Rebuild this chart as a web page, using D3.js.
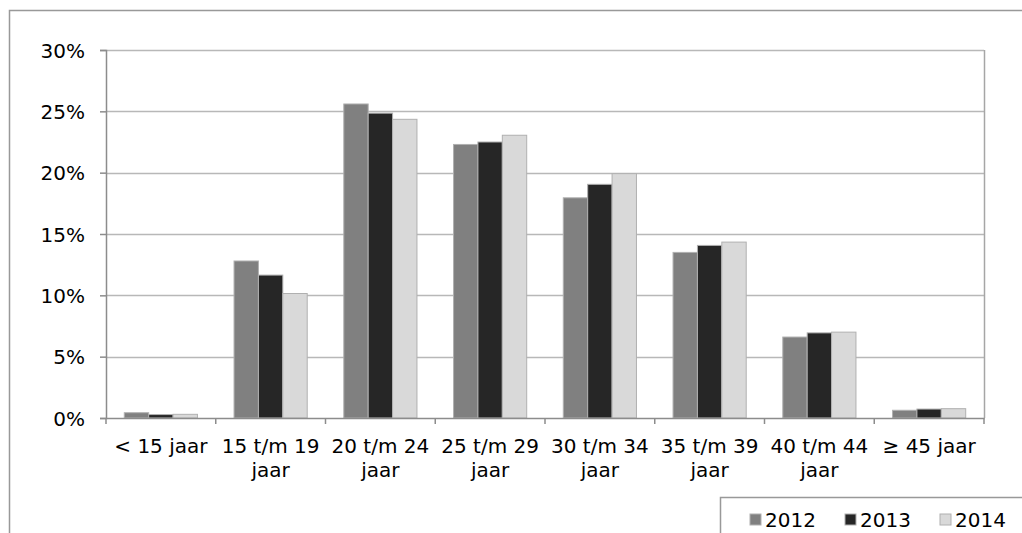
<!DOCTYPE html>
<html>
<head>
    <meta charset="utf-8">
    <title>Leeftijdsverdeling 2012 - 2014</title>
    <style>
    body { margin: 0; background: #fff; }
    text { font-family: 'DejaVu Sans', Verdana, sans-serif; fill: #000; }
    </style>
</head>
<body>

<script src="https://d3js.org/d3.v7.min.js"></script>
<script type="text/javascript">

// data
var categories = ["< 15 jaar", "15 t/m 19 jaar", "20 t/m 24 jaar", "25 t/m 29 jaar",
                  "30 t/m 34 jaar", "35 t/m 39 jaar", "40 t/m 44 jaar", "\u2265 45 jaar"];
var years = ["2012", "2013", "2014"];
var values2012 = [0.43, 12.8, 25.6, 22.3, 17.95, 13.5, 6.6, 0.63];
var values2013 = [0.28, 11.65, 24.85, 22.5, 19.05, 14.07, 6.94, 0.73];
var values2014 = [0.30, 10.15, 24.35, 23.05, 19.92, 14.34, 7.0, 0.76];
var yTicks = [0, 5, 10, 15, 20, 25, 30];
var colors = ["#808080", "#262626", "#d9d9d9"];

var series = [values2012, values2013, values2014];

var margin = {top: 50, right: 38, bottom: 115, left: 106},
    width  = 1022 - margin.left - margin.right,
    height = 533 - margin.top - margin.bottom;

var svg = d3.select("body")
    .append("svg")
    .attr("width", 1022)
    .attr("height", 533);

// outer chart frame (right and bottom run off the picture)
svg.append("path")
    .attr("d", "M9.5,533V10.5H1022")
    .style("fill", "none")
    .style("stroke", "#999")
    .style("stroke-width", "1.5px");

var chart = svg.append("g")
    .attr("transform", "translate(" + margin.left + "," + margin.top + ")");

var x0 = d3.scaleBand().domain(categories).range([0, width]).padding(0);
var bw = x0.bandwidth() / (years.length + 1.5);
var x1 = d3.scaleBand().domain(years)
    .range([bw * 0.75, bw * 0.75 + bw * years.length]);
var y = d3.scaleLinear().domain([0, 30]).range([height, 0]);

// gridlines
chart.append("g")
    .selectAll("line")
    .data(yTicks.filter(function(d) { return d > 0; }))
    .enter().append("line")
    .attr("x1", 0)
    .attr("x2", width)
    .attr("y1", function(d) { return Math.round(y(d)) + 0.5; })
    .attr("y2", function(d) { return Math.round(y(d)) + 0.5; })
    .style("stroke", "#b8b8b8")
    .style("stroke-width", "1.5px");

// right border of plot area
chart.append("line")
    .attr("x1", width + 0.5).attr("x2", width + 0.5)
    .attr("y1", y(30)).attr("y2", y(0))
    .style("stroke", "#a6a6a6")
    .style("stroke-width", "1.5px");

// bars
series.forEach(function(vals, i) {
    chart.append("g")
        .selectAll("rect")
        .data(vals)
        .enter().append("rect")
        .attr("x", function(d, j) { return x0(categories[j]) + x1(years[i]); })
        .attr("y", function(d) { return y(d); })
        .attr("width", x1.bandwidth())
        .attr("height", function(d) { return y(0) - y(d); })
        .style("fill", colors[i])
        .style("stroke", "#b0b0b0")
        .style("stroke-width", "1px");
});

// y axis
var yAxis = chart.append("g")
    .call(d3.axisLeft(y)
        .tickValues(yTicks)
        .tickSize(6)
        .tickPadding(15)
        .tickFormat(function(d) { return d + "%"; }));
yAxis.select(".domain").style("stroke", "#8c8c8c").style("stroke-width", "1.5px");
yAxis.selectAll(".tick line").style("stroke", "#8c8c8c").style("stroke-width", "1.5px");
yAxis.selectAll("text")
    .style("font-size", "20px")
    .attr("dy", "0.36em");

// x axis
var xAxis = chart.append("g")
    .attr("transform", "translate(0," + height + ")")
    .call(d3.axisBottom(x0).tickSize(0).tickPadding(28));
xAxis.select(".domain").style("stroke", "#8c8c8c").style("stroke-width", "1.5px");
xAxis.selectAll(".tick text").style("font-size", "20px");

// category boundary ticks
chart.append("g")
    .selectAll("line")
    .data(d3.range(categories.length + 1))
    .enter().append("line")
    .attr("x1", function(d) { return d * x0.step(); })
    .attr("x2", function(d) { return d * x0.step(); })
    .attr("y1", height)
    .attr("y2", height + 6)
    .style("stroke", "#8c8c8c")
    .style("stroke-width", "1.5px");

// wrap long labels
xAxis.selectAll(".tick text").each(function() {
    var t = d3.select(this);
    var words = t.text().split(" ");
    var line = [], lines = [];
    t.text(null);
    var probe = t.append("tspan");
    words.forEach(function(w) {
        line.push(w);
        probe.text(line.join(" "));
        if (probe.node().getComputedTextLength() > x0.step() - 2 && line.length > 1) {
            line.pop();
            lines.push(line.join(" "));
            line = [w];
        }
    });
    lines.push(line.join(" "));
    probe.remove();
    lines.forEach(function(l, k) {
        t.append("tspan")
            .attr("x", 0)
            .attr("dy", k === 0 ? "0.33em" : "1.2em")
            .text(l);
    });
});

// legend
var legend = svg.append("g").attr("transform", "translate(720,497)");
legend.append("rect")
    .attr("x", 0.5).attr("y", 0.5)
    .attr("width", 400).attr("height", 100)
    .style("fill", "#fff")
    .style("stroke", "#999")
    .style("stroke-width", "1.5px");

var legendX = [30, 125, 220];
years.forEach(function(yr, i) {
    legend.append("rect")
        .attr("x", legendX[i])
        .attr("y", 17)
        .attr("width", 11)
        .attr("height", 11)
        .style("fill", colors[i])
        .style("stroke", "#b0b0b0")
        .style("stroke-width", "1px");
    legend.append("text")
        .attr("x", legendX[i] + 15)
        .attr("y", 30)
        .style("font-size", "20px")
        .text(yr);
});

</script>

</body>
</html>
